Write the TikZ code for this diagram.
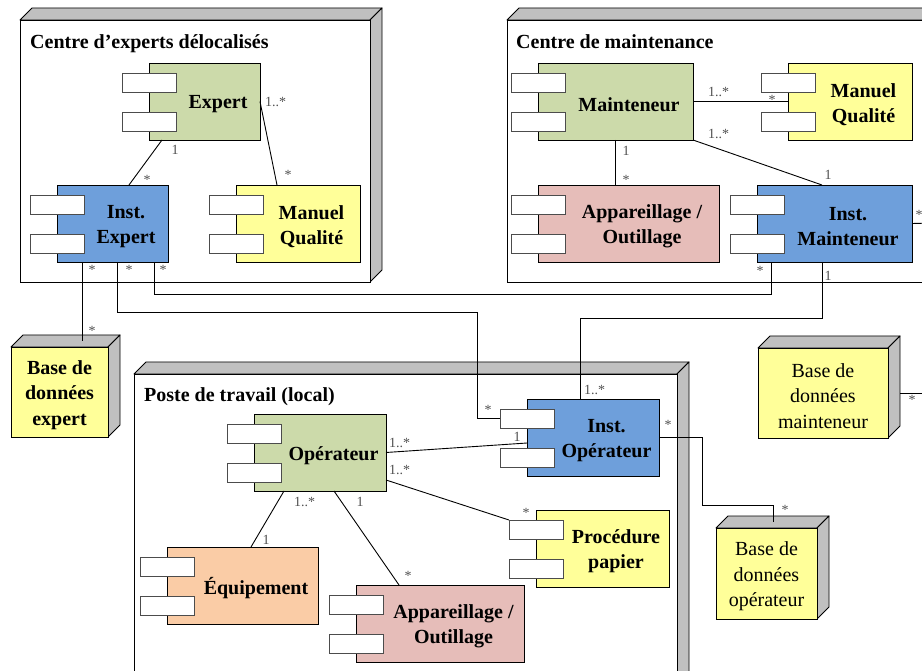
\documentclass[tikz,border=0pt]{standalone}
\usepackage{fontspec}
\setmainfont{Liberation Serif}
\usetikzlibrary{calc}
\definecolor{cgreen}{RGB}{204,218,170}
\definecolor{cblue}{RGB}{110,159,219}
\definecolor{cyellow}{RGB}{255,255,153}
\definecolor{cpink}{RGB}{230,189,185}
\definecolor{corange}{RGB}{250,204,166}
\definecolor{cgray}{RGB}{192,192,192}
\definecolor{cmult}{RGB}{80,80,80}
\tikzset{
  compbox/.style={draw=black, line width=0.9pt, inner sep=0pt, outer sep=0pt, anchor=north west},
  tabbox/.style={draw=black!70, fill=white, line width=0.9pt, minimum width=54pt, minimum height=19pt, inner sep=0pt, outer sep=0pt, anchor=north west},
  comptext/.style={font=\fontsize{20}{25}\selectfont\bfseries, align=center, inner sep=0pt},
  front3d/.style={draw=black, line width=0.9pt, inner sep=0pt, outer sep=0pt, anchor=north west},
  cubetext/.style={align=center, inner sep=0pt},
  face3d/.style={draw=black, fill=cgray, line width=0.9pt, line join=round},
  titletext/.style={font=\fontsize{20}{25}\selectfont\bfseries, anchor=base west, inner sep=0pt},
  multc/.style={font=\fontsize{14}{16}\selectfont, text=cmult, inner sep=0pt, anchor=base},
  multw/.style={multc, anchor=base west},
  conn/.style={draw=black, line width=0.9pt},
}
% component: name, x1, y1, x2, y2, colour, text
\newcommand\compo[7]{%
  \node[compbox, fill=#6, minimum width={(#4)-(#2)}, minimum height={(#5)-(#3)}] (#1) at (#2,#3) {};
  \node[tabbox] (#1-t1) at ($(#1.north west)+(-27,10)$) {};
  \node[tabbox] (#1-t2) at ($(#1.north west)+(-27,49)$) {};
  \node[comptext] (#1-txt) at ($(#1.center)+(13.5,3)$) {#7};
}
% 3d node: name, x1, y1, x2, y2, colour, text, font
\newcommand\cube[8]{%
  \draw[face3d] (#2,#3) -- ({#2+12},{#3-12}) -- ({#4+12},{#3-12}) -- (#4,#3) -- cycle;
  \draw[face3d] (#4,#3) -- ({#4+12},{#3-12}) -- ({#4+12},{#5-12}) -- (#4,#5) -- cycle;
  \node[front3d, fill=#6, minimum width={(#4)-(#2)}, minimum height={(#5)-(#3)}] (#1) at (#2,#3) {};
  \node[cubetext, font=#8] (#1-txt) at ($(#1.center)+(0,3)$) {#7};
}
\newcommand\mlc[4]{\node[multc] (#1) at (#2,#3) {#4};}
\newcommand\mlw[4]{\node[multw] (#1) at (#2,#3) {#4};}
\begin{document}
\begin{tikzpicture}[x=1pt,y=-1pt]
\useasboundingbox (0,0) rectangle (922,671);
\clip (0,0) rectangle (922,671);
\fill[white] (0,0) rectangle (922,671);
% containers
\cube{ce}{20}{20}{370}{282}{white}{}{\normalsize}
\cube{cm}{507}{20}{1000}{282}{white}{}{\normalsize}
\cube{pt}{134}{374}{677}{720}{white}{}{\normalsize}
\node[titletext] (ce-title) at (30,49) {Centre d’experts délocalisés};
\node[titletext] (cm-title) at (516,49) {Centre de maintenance};
\node[titletext] (pt-title) at (144,402) {Poste de travail (local)};
% databases
\cube{bde}{11}{347}{108}{437}{cyellow}{Base de\\données\\expert}{\fontsize{20}{25.5}\selectfont\bfseries}
\cube{bdm}{758}{348}{888}{438}{cyellow}{Base de\\données\\mainteneur}{\fontsize{20}{25.5}\selectfont}
\cube{bdo}{716}{528}{817}{619}{cyellow}{Base de\\données\\opérateur}{\fontsize{20}{25.5}\selectfont}
% components
\compo{expert}{149}{63}{260}{140}{cgreen}{Expert}
\compo{ie}{57}{185}{168}{262}{cblue}{Inst.\\Expert}
\compo{mqe}{236}{185}{360}{262}{cyellow}{Manuel\\Qualité}
\compo{mt}{538}{63}{693}{140}{cgreen}{Mainteneur}
\compo{mqm}{788}{63}{912}{140}{cyellow}{Manuel\\Qualité}
\compo{apm}{538}{185}{719}{262}{cpink}{Appareillage /\\Outillage}
\compo{im}{757}{185}{912}{262}{cblue}{Inst.\\Mainteneur}
\compo{op}{254}{414}{386}{491}{cgreen}{Opérateur}
\compo{iop}{527}{399}{659}{476}{cblue}{Inst.\\Opérateur}
\compo{pp}{536}{510}{669}{587}{cyellow}{Procédure\\papier}
\compo{eq}{167}{547}{318}{624}{corange}{Équipement}
\compo{apl}{356}{585}{524}{662}{cpink}{Appareillage /\\Outillage}
% waypoints
\coordinate (w1) at (477,312);
\coordinate (w2) at (771,294);
\coordinate (w3) at (580,318);
\coordinate (w4) at (702,505);
\coordinate (e1) at (935,223);
\coordinate (e2) at (935,393);
% connectors
\draw[conn] ($(expert.south west)+(13,0)$) -- ($(ie.north west)+(72,0)$);
\draw[conn] (expert.east) -- ($(mqe.north west)+(41,0)$);
\draw[conn] ($(ie.south west)+(25,0)$) -- ($(bde.north west)+(71,-6)$);
\draw[conn] ($(ie.south west)+(60,0)$) |- (w1) |- (iop-t1.west);
\draw[conn] ($(ie.south west)+(97,0)$) |- (w2) -- ($(im.south west)+(14,0)$);
\draw[conn] (mt.east) -- (mqm.west);
\draw[conn] ($(mt.south west)+(77,0)$) -- ($(apm.north west)+(77,0)$);
\draw[conn] (mt.south east) -- ($(im.north west)+(65,0)$);
\draw[conn] ($(im.south west)+(65,0)$) |- (w3) -- ($(iop.north west)+(53,0)$);
\draw[conn] (im.east) -- (e1);
\draw[conn] ($(bdm.east)+(12,0)$) -- (e2);
\draw[conn] (iop.east) -| (w4) -| ($(bdo.north west)+(57,-6)$);
\draw[conn] (op.east) -- ($(iop.north west)+(0,44)$);
\draw[conn] ($(op.north east)+(0,66)$) -- (pp-t1.north west);
\draw[conn] ($(op.south west)+(30,0)$) -- ($(eq.north west)+(84,0)$);
\draw[conn] ($(op.south west)+(80,0)$) -- ($(apl.north west)+(43,0)$);
% multiplicities
\mlw{m1}{265}{107}{1..*}
\mlc{m2}{175}{155}{1}
\mlc{m3}{147}{185}{*}
\mlc{m4}{288}{180}{*}
\mlc{m5}{92}{275}{*}
\mlc{m6}{129}{275}{*}
\mlc{m7}{163}{275}{*}
\mlc{m8}{92}{336}{*}
\mlw{m9}{708}{97}{1..*}
\mlc{m10}{772}{105}{*}
\mlw{m11}{708}{139}{1..*}
\mlc{m12}{626}{156}{1}
\mlc{m13}{626}{185}{*}
\mlc{m14}{828}{180}{1}
\mlc{m15}{919}{220}{*}
\mlc{m16}{760}{276}{*}
\mlc{m17}{828}{281}{1}
\mlc{m18}{488}{414}{*}
\mlw{m19}{584}{395}{1..*}
\mlc{m20}{517}{441}{1}
\mlc{m21}{668}{429}{*}
\mlc{m22}{785}{514}{*}
\mlc{m23}{526}{517}{*}
\mlc{m24}{912}{404}{*}
\mlw{m25}{389}{447}{1..*}
\mlw{m26}{389}{474}{1..*}
\mlw{m27}{294}{506}{1..*}
\mlc{m28}{360}{506}{1}
\mlc{m29}{266}{544}{1}
\mlc{m30}{408}{580}{*}
\end{tikzpicture}
\end{document}
